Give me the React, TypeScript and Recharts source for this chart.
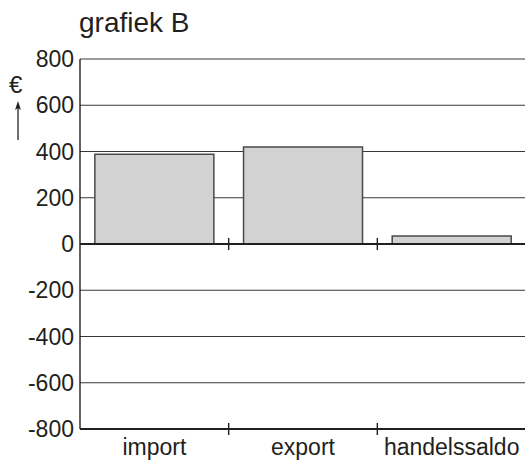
import { BarChart, Bar, XAxis, YAxis, CartesianGrid, ReferenceLine } from 'recharts'

const categories = ['import', 'export', 'handelssaldo']
const values = [388, 420, 35]
const yTicks = [-800, -600, -400, -200, 0, 200, 400, 600, 800]

const data = categories.map((name, i) => ({ name, value: values[i] }))

const ink = '#231f20'
const font = '"Liberation Sans", Arial, sans-serif'

// horizontal line with small marks at the category boundaries
function TickedLine(props: any) {
  const { x1, y1, x2, y2 } = props
  const n = categories.length
  const marks = []
  for (let i = 1; i < n; i++) {
    const x = x1 + ((x2 - x1) * i) / n
    marks.push(<line key={i} x1={x} x2={x} y1={y1 - 6} y2={y1 + 6} stroke={ink} strokeWidth={1.4} />)
  }
  return (
    <g>
      <line x1={x1} y1={y1} x2={x2} y2={y2} stroke={ink} strokeWidth={2.2} />
      {marks}
    </g>
  )
}

export default function App() {
  return (
    <div style={{ position: 'absolute', left: 0, top: 0, width: 525, height: 462, fontFamily: font }}>
      <div style={{ position: 'absolute', left: 79, top: 9, fontSize: 28, color: ink, lineHeight: 1 }}>grafiek B</div>
      <div style={{ position: 'absolute', left: 9, top: 73, fontSize: 24, color: ink, lineHeight: 1 }}>€</div>
      <svg style={{ position: 'absolute', left: 12, top: 100 }} width={12} height={42}>
        <line x1={6} y1={6} x2={6} y2={40} stroke={ink} strokeWidth={1.3} />
        <path d="M6 1 L3 10 L6 8 L9 10 Z" fill={ink} />
      </svg>
      <BarChart
        width={526}
        height={462}
        data={data}
        margin={{ top: 59, right: 0, bottom: 0, left: 0 }}
        barCategoryGap="10%"
      >
        <CartesianGrid horizontal vertical={false} stroke={ink} strokeWidth={1.2} strokeOpacity={0.9} />
        <XAxis
          dataKey="name"
          height={33}
          axisLine={false}
          tickLine={false}
          tickSize={0}
          tickMargin={10}
          interval={0}
          tick={{ fill: ink, fontSize: 23, fontFamily: font }}
        />
        <YAxis
          width={80}
          domain={[-800, 800]}
          ticks={yTicks}
          interval={0}
          axisLine={{ stroke: ink, strokeWidth: 1.4 }}
          tickLine={false}
          tickSize={0}
          tickMargin={6}
          tick={{ fill: ink, fontSize: 23, fontFamily: font }}
        />
        <Bar dataKey="value" fill="#d2d2d2" stroke="#4a4a4a" strokeWidth={1.5} isAnimationActive={false} />
        <ReferenceLine y={0} shape={TickedLine} />
        <ReferenceLine y={-800} shape={TickedLine} />
      </BarChart>
    </div>
  )
}
